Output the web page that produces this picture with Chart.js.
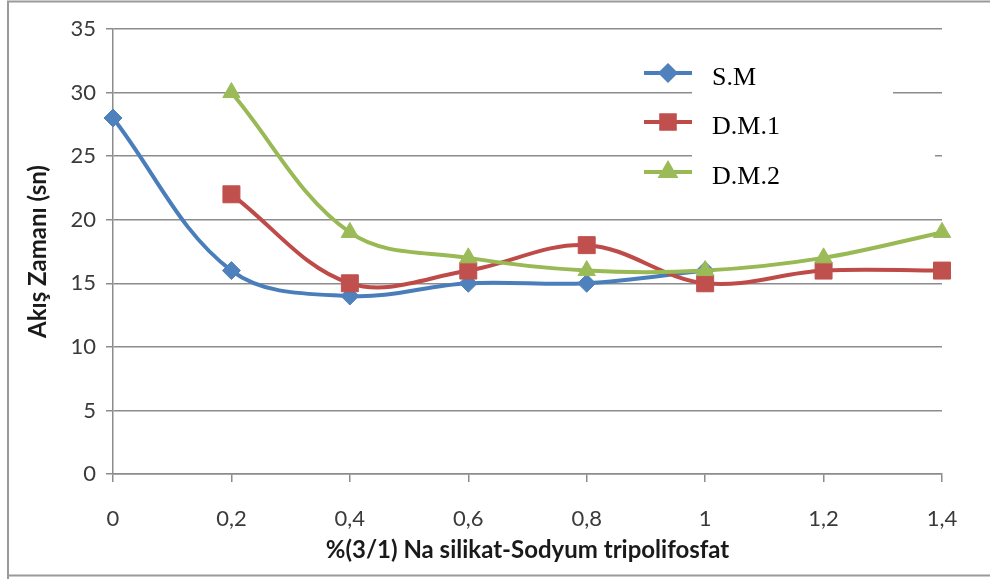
<!DOCTYPE html>
<html>
<head>
<meta charset="utf-8">
<script src="https://cdn.jsdelivr.net/npm/chart.js@4.4.0/dist/chart.umd.min.js"></script>
<style>
  html, body { margin: 0; padding: 0; background: #fff; }
  #wrap { width: 990px; height: 579px; }
</style>
</head>
<body>
<div id="wrap"><canvas id="akisChart" width="990" height="579"></canvas></div>
<script>
// oran (%) ekseni ve ölçülen akış süreleri (sn)
var oranlar = ['0', '0,2', '0,4', '0,6', '0,8', '1', '1,2', '1,4'];
var smDegerleri  = [28, 16, 14, 15, 15, 16, null, null];
var dm1Degerleri = [null, 22, 15, 16, 18, 15, 16, 16];
var dm2Degerleri = [null, 30, 19, 17, 16, 16, 17, 19];
var seriAdlari = ['S.M', 'D.M.1', 'D.M.2'];
var yTikleri = [0, 5, 10, 15, 20, 25, 30, 35];

var gridRengi = '#8c8c8c';
var yaziRengi = '#3a3a3a';

function seri(ad, veri, cizgi, dolgu, stil, yaricap, sira) {
    return {
        label: ad,
        data: veri,
        borderColor: cizgi,
        backgroundColor: dolgu,
        pointBackgroundColor: dolgu,
        pointBorderColor: dolgu,
        pointBorderWidth: 1,
        pointStyle: stil,
        pointRadius: yaricap,
        borderWidth: 4,
        tension: 0.36,
        fill: false,
        clip: false,
        order: sira
    };
}

// sağ üstteki açıklama kutusu (çizgi + işaret + isim)
var aciklamaEklentisi = {
    id: 'aciklama',
    afterDatasetsDraw: function(chart) {
        var ctx = chart.ctx;
        ctx.save();
        // açıklama alanının arkasını beyaz yap (ızgara çizgilerini kapatır)
        ctx.fillStyle = '#fff';
        ctx.fillRect(692, 58, 201, 62);
        ctx.fillRect(692, 120, 243, 78);

        var satirlar = [73, 122, 172];
        chart.data.datasets.forEach(function(ds, i) {
            var y = satirlar[i];
            ctx.strokeStyle = ds.borderColor;
            ctx.lineWidth = 4;
            ctx.beginPath();
            ctx.moveTo(644, y);
            ctx.lineTo(692, y);
            ctx.stroke();

            ctx.fillStyle = ds.pointBackgroundColor;
            ctx.strokeStyle = ds.pointBorderColor;
            Chart.helpers.drawPoint(ctx, {
                pointStyle: ds.pointStyle,
                radius: ds.pointRadius * 0.8,
                borderWidth: 1,
                rotation: 0
            }, 668, y);

            ctx.fillStyle = '#000';
            ctx.font = '26px "Liberation Serif", "Times New Roman", serif';
            ctx.textBaseline = 'middle';
            ctx.textAlign = 'left';
            ctx.fillText(ds.label, 712, y + 5);
        });
        ctx.restore();
    }
};

// dış çerçeve
var cerceveEklentisi = {
    id: 'cerceve',
    afterDraw: function(chart) {
        var ctx = chart.ctx;
        ctx.save();
        ctx.strokeStyle = '#9a9a9a';
        ctx.lineWidth = 2;
        ctx.beginPath();
        ctx.moveTo(8, 580);
        ctx.lineTo(8, 1.5);
        ctx.lineTo(990, 1.5);
        ctx.moveTo(8, 575.5);
        ctx.lineTo(990, 575.5);
        ctx.stroke();
        ctx.restore();
    }
};

var ctx = document.getElementById('akisChart').getContext('2d');
new Chart(ctx, {
    type: 'line',
    data: {
        labels: oranlar,
        datasets: [
            seri(seriAdlari[0], smDegerleri,  '#4A7EBB', '#4F81BD', 'rectRot', 9, 3),
            seri(seriAdlari[1], dm1Degerleri, '#BE4B48', '#C0504D', 'rect', 12, 2),
            seri(seriAdlari[2], dm2Degerleri, '#98B954', '#9BBB59', 'triangle', 10, 1)
        ]
    },
    options: {
        responsive: false,
        animation: false,
        devicePixelRatio: 1,
        layout: { padding: { left: 10, top: 29, right: 48, bottom: 4 } },
        plugins: {
            legend: { display: false },
            tooltip: { enabled: false }
        },
        scales: {
            x: {
                type: 'category',
                offset: false,
                afterFit: function(scale) { scale.height = 575 - 474; },
                grid: {
                    drawOnChartArea: false,
                    drawTicks: true,
                    tickLength: 8,
                    color: gridRengi,
                    lineWidth: 1.5
                },
                border: { color: gridRengi, width: 1.5 },
                ticks: {
                    color: yaziRengi,
                    padding: 24,
                    maxRotation: 0,
                    font: { family: 'Lato', size: 22 }
                },
                title: {
                    display: true,
                    text: '%(3/1) Na silikat-Sodyum tripolifosfat',
                    color: '#1a1a1a',
                    padding: { top: 0, bottom: 10 },
                    font: { family: 'Lato', size: 24, weight: 'bold' }
                }
            },
            y: {
                min: 0,
                max: 35,
                afterFit: function(scale) { scale.width = 113 - 10; },
                afterBuildTicks: function(scale) {
                    scale.ticks = yTikleri.map(function(v) { return { value: v }; });
                },
                grid: {
                    color: gridRengi,
                    tickLength: 7,
                    lineWidth: 1.5
                },
                border: { color: gridRengi, width: 1.5 },
                ticks: {
                    color: yaziRengi,
                    padding: 10,
                    font: { family: 'Lato', size: 22 }
                },
                title: {
                    display: true,
                    text: 'Akış Zamanı (sn)',
                    color: '#1a1a1a',
                    padding: { top: 14, bottom: 0 },
                    font: { family: 'Lato', size: 24, weight: 'bold' }
                }
            }
        }
    },
    plugins: [aciklamaEklentisi, cerceveEklentisi]
});
</script>
</body>
</html>
